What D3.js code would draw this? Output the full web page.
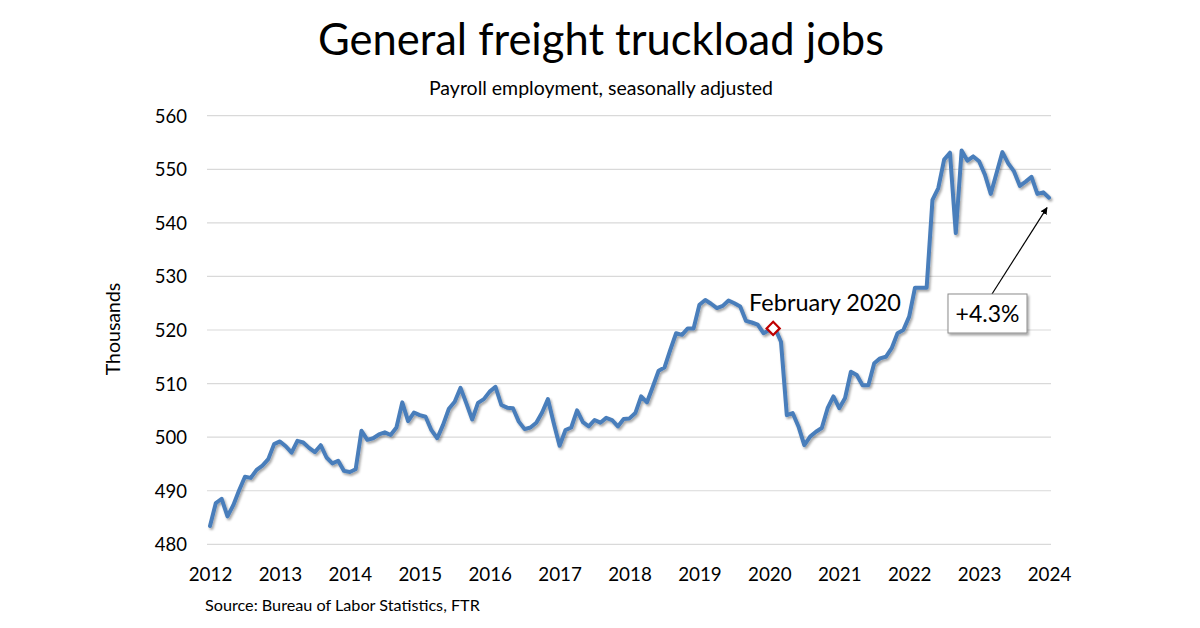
<!DOCTYPE html>
<html>
<head>
<meta charset="utf-8">
<script src="https://cdn.jsdelivr.net/npm/d3@7"></script>
<style>
  html, body { margin: 0; padding: 0; background: #fff; }
  svg { display: block; font-family: Lato, "Open Sans", sans-serif; }
</style>
</head>
<body>
<svg id="chart" width="1200" height="628"></svg>
<script>
// ---- data ----
const yearTicks = ["2012","2013","2014","2015","2016","2017","2018","2019","2020","2021","2022","2023","2024"];
const yTicks = [480, 490, 500, 510, 520, 530, 540, 550, 560];
// monthly payroll employment (thousands), Jan 2012 .. Jan 2024
const jobs = [
  483.4, 487.7, 488.5, 485.2, 487.3, 490.1, 492.6, 492.4, 493.9, 494.7, 495.9, 498.7,
  499.2, 498.3, 497.1, 499.3, 499.0, 498.0, 497.2, 498.5, 496.2, 495.1, 495.6, 493.7,
  493.5, 494.0, 501.2, 499.5, 499.8, 500.5, 500.9, 500.4, 501.8, 506.5, 503.0, 504.6,
  504.1, 503.8, 501.3, 499.8, 502.3, 505.3, 506.6, 509.2, 506.3, 503.3, 506.4, 507.1,
  508.5, 509.4, 506.0, 505.5, 505.4, 502.9, 501.5, 501.8, 502.7, 504.6, 507.1, 502.6,
  498.4, 501.3, 501.8, 505.0, 502.8, 502.0, 503.2, 502.7, 503.6, 503.2, 502.0, 503.4,
  503.5, 504.5, 507.6, 506.5, 509.4, 512.4, 513.0, 516.3, 519.4, 519.1, 520.3, 520.3,
  524.7, 525.6, 524.9, 524.1, 524.5, 525.5, 525.0, 524.4, 521.7, 521.4, 521.0, 519.4,
  520.0, 520.3, 517.8, 504.1, 504.5, 502.0, 498.5, 500.1, 501.0, 501.7, 505.4, 507.6,
  505.4, 507.3, 512.2, 511.6, 509.7, 509.7, 513.8, 514.7, 515.0, 516.6, 519.4, 520.0,
  522.5, 527.9, 527.9, 527.9, 544.3, 546.5, 551.8, 553.1, 538.1, 553.5, 551.6, 552.4,
  551.5, 549.0, 545.4, 549.3, 553.2, 551.1, 549.6, 546.9, 547.7, 548.6, 545.4, 545.7,
  544.7
];
const markIndex = 97;            // February 2020
const markLabel = "February 2020";
const changeLabel = "+4.3%";

// ---- layout ----
const svg = d3.select("#chart");
const x = d3.scaleLinear().domain([0, jobs.length - 1]).range([210, 1049]);
const y = d3.scaleLinear().domain([480, 560]).range([544.3, 115.7]);

const defs = svg.append("defs");
const f = defs.append("filter").attr("id", "shadow").attr("x", "-10%").attr("y", "-10%").attr("width", "130%").attr("height", "130%");
f.append("feDropShadow").attr("dx", 1.5).attr("dy", 2).attr("stdDeviation", 1.2)
  .attr("flood-color", "#000").attr("flood-opacity", 0.35);

// title
svg.append("text").attr("x", 601).attr("y", 55).attr("text-anchor", "middle")
  .attr("font-size", 43.5).attr("fill", "#000").text("General freight truckload jobs");
svg.append("text").attr("x", 601).attr("y", 95).attr("text-anchor", "middle")
  .attr("font-size", 19.5).attr("fill", "#000").text("Payroll employment, seasonally adjusted");

// gridlines
svg.append("g").selectAll("line").data(yTicks).join("line")
  .attr("x1", 207).attr("x2", 1051)
  .attr("y1", d => y(d)).attr("y2", d => y(d))
  .attr("stroke", "#d9d9d9").attr("stroke-width", 1.2);

// y axis labels
const yAxis = d3.axisLeft(y).tickValues(yTicks).tickSize(0).tickPadding(0);
const gy = svg.append("g").attr("transform", "translate(187,0)").call(yAxis);
gy.select(".domain").remove();
gy.selectAll("text").attr("font-size", 18.5).attr("fill", "#000")
  .attr("font-family", "Lato, 'Open Sans', sans-serif").attr("dy", "0.35em");

// x axis labels
const xAxis = d3.axisBottom(x).tickValues(yearTicks.map((d, i) => i * 12))
  .tickFormat((d, i) => yearTicks[i]).tickSize(0).tickPadding(0);
const gx = svg.append("g").attr("transform", "translate(0,568)").call(xAxis);
gx.select(".domain").remove();
gx.selectAll("text").attr("font-size", 18.8).attr("fill", "#000")
  .attr("font-family", "Lato, 'Open Sans', sans-serif").attr("dy", "0.71em");

// y title
svg.append("text").attr("transform", "translate(120,329) rotate(-90)")
  .attr("text-anchor", "middle").attr("font-size", 19.5).attr("fill", "#000").text("Thousands");

// line
const line = d3.line().x((d, i) => x(i)).y(d => y(d));
svg.append("path").datum(jobs).attr("d", line)
  .attr("fill", "none").attr("stroke", "#4a7ebb").attr("stroke-width", 4)
  .attr("stroke-linejoin", "round").attr("stroke-linecap", "round")
  .attr("filter", "url(#shadow)");

// marker
const mx = x(markIndex) - 2, my = y(jobs[markIndex]);
svg.append("path")
  .attr("d", d3.symbol(d3.symbolDiamond2, 110)())
  .attr("transform", `translate(${mx},${my})`)
  .attr("fill", "#fff").attr("stroke", "#c00000").attr("stroke-width", 2.2);
svg.append("text").attr("x", 825).attr("y", 311).attr("text-anchor", "middle")
  .attr("font-size", 23.5).attr("fill", "#000").text(markLabel);

// arrow + box
defs.append("marker").attr("id", "arrow").attr("viewBox", "0 0 10 10")
  .attr("refX", 9).attr("refY", 5).attr("markerWidth", 6).attr("markerHeight", 6)
  .attr("orient", "auto")
  .append("path").attr("d", "M0,0 L10,5 L0,10 z").attr("fill", "#000");
const last = jobs.length - 1;
svg.append("line").attr("x1", 992).attr("y1", 294)
  .attr("x2", x(last) - 2).attr("y2", y(jobs[last]) + 10)
  .attr("stroke", "#000").attr("stroke-width", 1.2).attr("marker-end", "url(#arrow)");
svg.append("rect").attr("x", 948).attr("y", 294).attr("width", 79).attr("height", 39)
  .attr("fill", "#fff").attr("stroke", "#8c8c8c").attr("stroke-width", 1)
  .attr("filter", "url(#shadow)");
svg.append("text").attr("x", 987.5).attr("y", 321.5).attr("text-anchor", "middle")
  .attr("font-size", 23).attr("fill", "#000").text(changeLabel);

// source
svg.append("text").attr("x", 205).attr("y", 611).attr("font-size", 16.2)
  .attr("fill", "#000").text("Source: Bureau of Labor Statistics, FTR");
</script>
</body>
</html>
